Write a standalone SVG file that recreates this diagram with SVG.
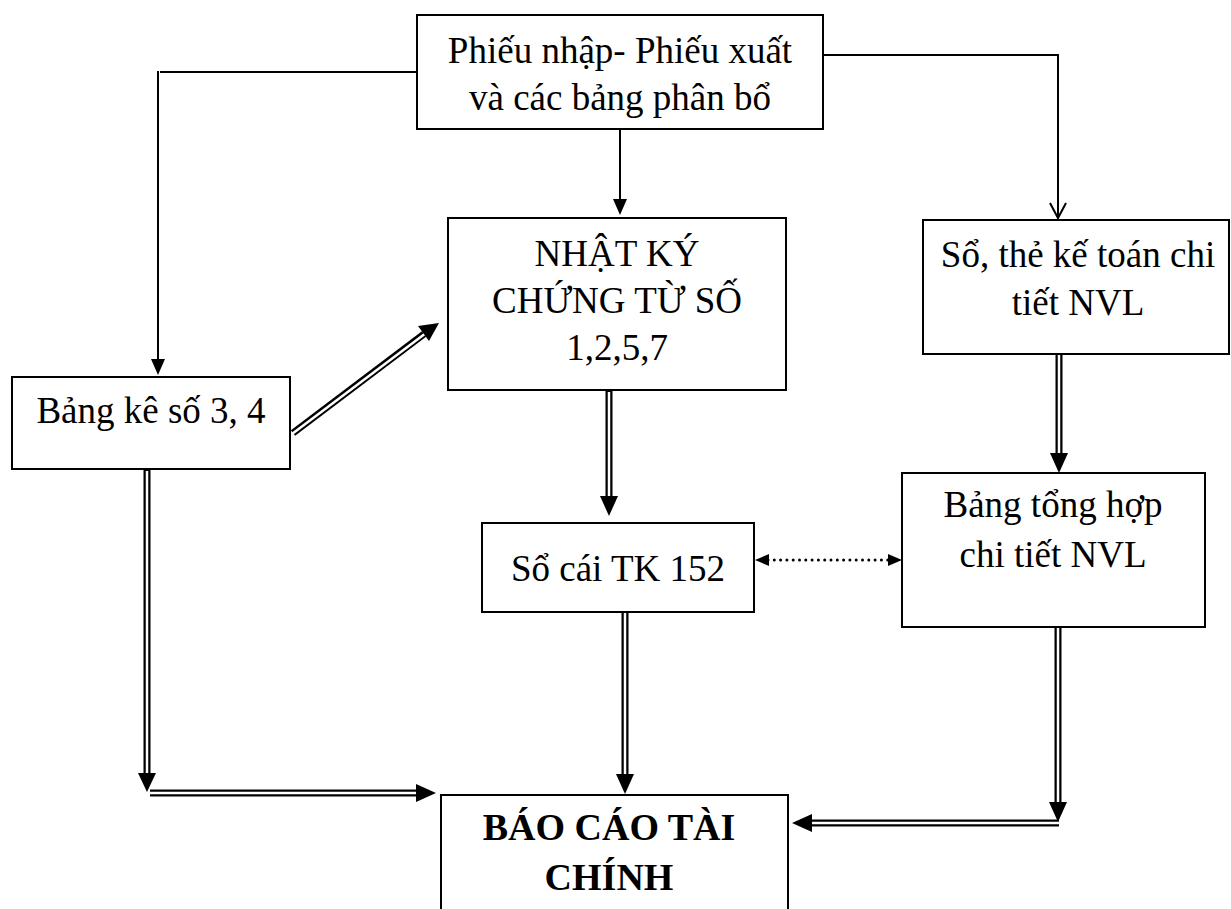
<svg xmlns="http://www.w3.org/2000/svg" width="1231" height="909" viewBox="0 0 1231 909">
<style>
.box{fill:#fff;stroke:#000;stroke-width:2}
.t{font-family:"Liberation Serif","Times New Roman",serif;font-size:37px;fill:#000;text-anchor:middle}
.b{font-weight:bold;font-size:38px}
.ln{fill:none;stroke:#000;stroke-width:2}
.dbo{fill:none;stroke:#000;stroke-width:7}
.dbi{fill:none;stroke:#fff;stroke-width:2.5}
.ah{fill:#000;stroke:none}
.dot{fill:none;stroke:#000;stroke-width:3;stroke-linecap:round;stroke-dasharray:0 6.3}
</style>
<rect width="1231" height="909" fill="#fff"/>
<g id="connectors">
  <!-- top to left -->
  <polyline class="ln" points="417,72 160,72"/>
  <polyline class="ln" points="158,71 158,360"/>
  <polygon class="ah" points="151,359 165,359 158,375"/>
  <!-- top to middle -->
  <line class="ln" x1="620" y1="129" x2="620" y2="200"/>
  <polygon class="ah" points="613,199 627,199 620,215"/>
  <!-- top to right -->
  <polyline class="ln" points="823,55 1058,55 1058,218"/>
  <polyline class="ln" points="1050,203 1058,218 1066,203"/>
  <!-- diagonal double -->
  <line class="dbo" x1="293" y1="433" x2="424" y2="334"/>
  <line class="dbi" x1="290" y1="435.5" x2="426" y2="333"/>
  <polygon class="ah" points="439,323 418,326 429,341"/>
  <!-- NK to So cai -->
  <line class="dbo" x1="609" y1="391" x2="609" y2="498"/>
  <line class="dbi" x1="609" y1="392" x2="609" y2="500"/>
  <polygon class="ah" points="600,496 618,496 609,516"/>
  <!-- So the to Bang tong hop -->
  <line class="dbo" x1="1059" y1="354" x2="1059" y2="455"/>
  <line class="dbi" x1="1059" y1="355" x2="1059" y2="457"/>
  <polygon class="ah" points="1050,453 1068,453 1059,473"/>
  <!-- dotted bidirectional -->
  <line class="dot" x1="768" y1="560" x2="889" y2="560"/>
  <polygon class="ah" points="755,560 769,554 769,566"/>
  <polygon class="ah" points="902,560 888,554 888,566"/>
  <!-- So cai to BCTC -->
  <line class="dbo" x1="625" y1="612" x2="625" y2="776"/>
  <line class="dbi" x1="625" y1="613" x2="625" y2="778"/>
  <polygon class="ah" points="616,774 634,774 625,794"/>
  <!-- Bang ke to BCTC -->
  <line class="dbo" x1="147" y1="470" x2="147" y2="775"/>
  <line class="dbi" x1="147" y1="471" x2="147" y2="777"/>
  <polygon class="ah" points="138,773 156,773 147,792"/>
  <line class="dbo" x1="150" y1="793" x2="418" y2="793"/>
  <line class="dbi" x1="150" y1="793" x2="420" y2="793"/>
  <polygon class="ah" points="416,784 416,802 436,793"/>
  <!-- Bang tong hop to BCTC -->
  <line class="dbo" x1="1058" y1="627" x2="1058" y2="804"/>
  <line class="dbi" x1="1058" y1="628" x2="1058" y2="806"/>
  <polygon class="ah" points="1049,802 1067,802 1058,822"/>
  <line class="dbo" x1="1059" y1="823" x2="810" y2="823"/>
  <line class="dbi" x1="1059" y1="823" x2="808" y2="823"/>
  <polygon class="ah" points="812,814 812,832 792,823"/>
</g>
<g id="n-top">
  <rect class="box" x="417" y="15" width="406" height="114"/>
  <text class="t" x="620" y="63">Phiếu nhập- Phiếu xuất</text>
  <text class="t" x="620" y="110">và các bảng phân bổ</text>
</g>
<g id="n-bangke">
  <rect class="box" x="12" y="377" width="278" height="92"/>
  <text class="t" x="151" y="423">Bảng kê số 3, 4</text>
</g>
<g id="n-nhatky">
  <rect class="box" x="448" y="218" width="338" height="172"/>
  <text class="t" x="617" y="266">NHẬT KÝ</text>
  <text class="t" x="617" y="313">CHỨNG TỪ SỐ</text>
  <text class="t" x="617" y="360">1,2,5,7</text>
</g>
<g id="n-sothe">
  <rect class="box" x="923" y="220" width="306" height="134"/>
  <text class="t" x="1078" y="267">Sổ, thẻ kế toán chi</text>
  <text class="t" x="1078" y="315">tiết NVL</text>
</g>
<g id="n-socai">
  <rect class="box" x="482" y="523" width="272" height="89"/>
  <text class="t" x="618" y="581">Sổ cái TK 152</text>
</g>
<g id="n-tonghop">
  <rect class="box" x="902" y="473" width="303" height="154"/>
  <text class="t" x="1053" y="517">Bảng tổng hợp</text>
  <text class="t" x="1053" y="567">chi tiết NVL</text>
</g>
<g id="n-bctc">
  <rect class="box" x="441" y="795" width="347" height="130"/>
  <text class="t b" x="609" y="840">BÁO CÁO TÀI</text>
  <text class="t b" x="609" y="890">CHÍNH</text>
</g>
</svg>
